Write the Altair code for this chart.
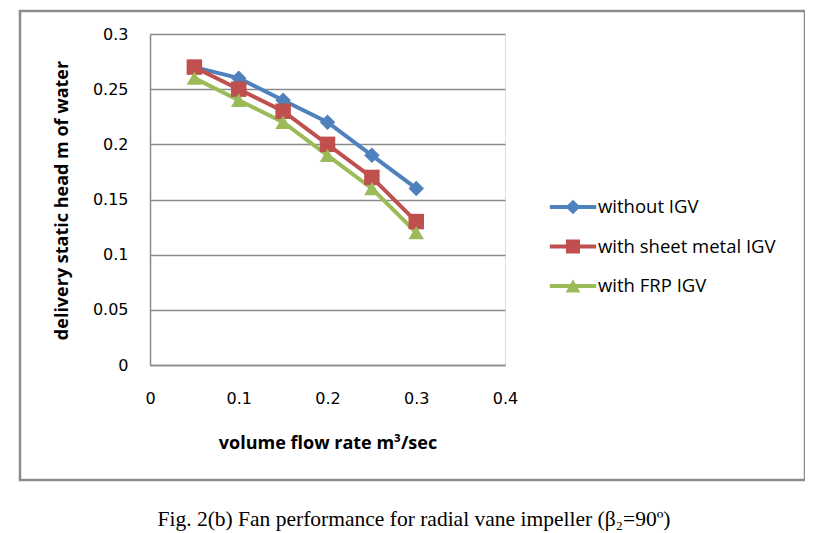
import altair as alt
import pandas as pd

flow = [0.05, 0.10, 0.15, 0.20, 0.25, 0.30]
series_names = ["without IGV", "with sheet metal IGV", "with FRP IGV"]
without_igv = [0.27, 0.26, 0.24, 0.22, 0.19, 0.16]
sheet_metal_igv = [0.27, 0.25, 0.23, 0.20, 0.17, 0.13]
frp_igv = [0.26, 0.24, 0.22, 0.19, 0.16, 0.12]
y_ticks = [0, 0.05, 0.1, 0.15, 0.2, 0.25, 0.3]
x_ticks = [0, 0.1, 0.2, 0.3, 0.4]
colors = ["#4F81BD", "#C0504D", "#9BBB59"]
caption = "Fig. 2(b) Fan performance for radial vane impeller (β₂=90º)"

rows = []
for name, vals in zip(series_names, [without_igv, sheet_metal_igv, frp_igv]):
    for i, (q, h) in enumerate(zip(flow, vals)):
        rows.append({"series": name, "flow": q, "head": h, "order": i})
df = pd.DataFrame(rows)

FONT = "Open Sans"
LFONT = "DejaVu Sans"
GRID = "#8a8a8a"

x_enc = alt.X("flow:Q", scale=alt.Scale(domain=[0, 0.4], nice=False),
              axis=alt.Axis(values=x_ticks, format=".1~f", grid=False, ticks=False,
                            domainColor=GRID, domainWidth=1.5, labelFlush=False,
                            labelFont=LFONT, labelFontSize=16, labelColor="#000",
                            labelPadding=25,
                            title="volume flow rate m³/sec", titleFont=FONT,
                            titleFontSize=18, titleFontWeight="bold", titleColor="#000",
                            titleY=78, titleBaseline="middle"))
y_enc = alt.Y("head:Q", scale=alt.Scale(domain=[0, 0.3], nice=False),
              axis=alt.Axis(values=y_ticks, format=".2~f", grid=True, gridColor=GRID,
                            gridWidth=1.5, gridOpacity=1, ticks=False,
                            domainColor=GRID, domainWidth=1.5, labelFlush=False,
                            labelFont=LFONT, labelFontSize=16, labelColor="#000",
                            labelPadding=22,
                            title="delivery static head m of water", titleFont=FONT,
                            titleFontSize=18, titleFontWeight="bold", titleColor="#000",
                            titleX=-88, titleY=166, titleAngle=-90,
                            titleBaseline="middle"))
color_scale = alt.Scale(domain=series_names, range=colors)

base = alt.Chart(df)

lines = base.mark_line(strokeWidth=4).encode(
    x=x_enc, y=y_enc,
    color=alt.Color("series:N", scale=color_scale, legend=None),
    detail="series:N", order="order:Q",
)
points = base.mark_point(filled=True, opacity=1, size=240).encode(
    x="flow:Q", y="head:Q",
    color=alt.Color("series:N", scale=color_scale, legend=None),
    shape=alt.Shape("series:N", scale=alt.Scale(domain=series_names,
                                                range=["diamond", "square", "triangle-up"]),
                    legend=None),
)

leg_paths = [
    "M-1.45,-0.125H1.45V0.125H-1.45Z M-0.46,0L0,-0.46L0.46,0L0,0.46Z",
    "M-1.45,-0.125H1.45V0.125H-1.45Z M-0.44,-0.44H0.44V0.44H-0.44Z",
    "M-1.45,-0.125H1.45V0.125H-1.45Z M0,-0.42L0.46,0.4H-0.46Z",
]
legend_cfg = alt.Legend(title=None, orient="none", legendX=407, legendY=157,
                        symbolSize=1024, symbolStrokeWidth=0, labelFont=FONT,
                        labelFontSize=18.5, labelColor="#000", labelOffset=9,
                        labelLimit=400, rowPadding=13.5, padding=0)
legend_layer = base.transform_filter("datum.flow < 0").mark_point(
    filled=True, opacity=1).encode(
    x="flow:Q", y="head:Q",
    color=alt.Color("series:N", scale=color_scale, legend=legend_cfg),
    shape=alt.Shape("series:N", scale=alt.Scale(domain=series_names, range=leg_paths),
                    legend=legend_cfg),
)

border = alt.Chart(pd.DataFrame({"k": [0]})).mark_rect(
    fill=None, stroke="#8c8c8c", strokeWidth=2.5).encode(
    x=alt.value(-130), x2=alt.value(655), y=alt.value(-23), y2=alt.value(446))

cap = alt.Chart(pd.DataFrame({"t": [caption]})).mark_text(
    font="Liberation Serif", fontSize=21.5, color="#000", align="center",
    baseline="alphabetic").encode(text="t:N", x=alt.value(264), y=alt.value(492))

chart = alt.layer(lines, points, legend_layer, border, cap).resolve_scale(
    shape="independent").resolve_legend(color="independent", shape="independent").properties(
    width=355, height=331,
    autosize=alt.AutoSizeParams(type="none"),
    padding={"left": 142, "top": 26, "right": 300, "bottom": 168},
).configure_view(stroke=None).configure(background="#ffffff")

chart.save("out.html", embed_options={"renderer": "svg", "actions": False})
